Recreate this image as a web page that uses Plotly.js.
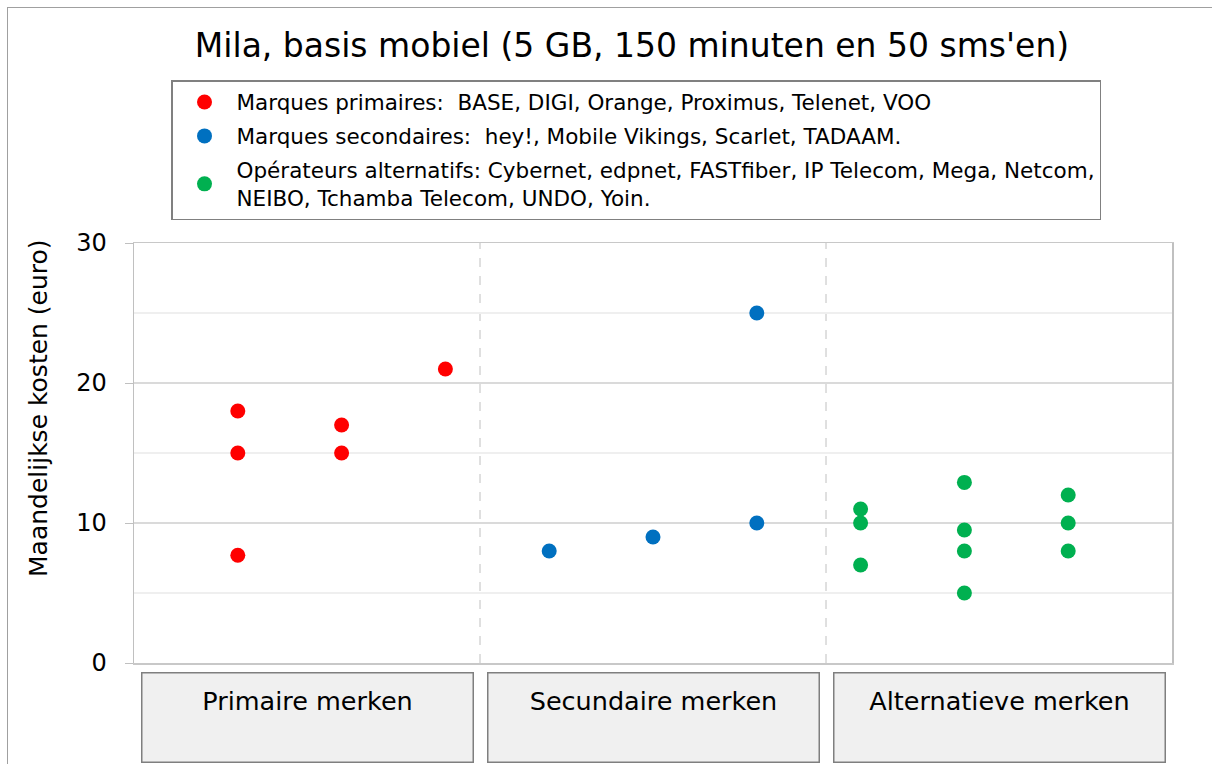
<!DOCTYPE html>
<html>
<head>
<meta charset="utf-8">
<script src="https://cdn.plot.ly/plotly-3.0.1.min.js"></script>
<style>
  html, body { margin: 0; padding: 0; background: #fff; }
  #frame { position: absolute; left: 7px; top: 7px; width: 1220px; height: 780px;
           border-left: 1.5px solid #a0a0a0; border-top: 1.5px solid #a0a0a0; pointer-events: none; }
  #chart { position: absolute; left: 0; top: 0; width: 1212px; height: 764px; }
</style>
</head>
<body>
<div id="chart"></div>
<div id="frame"></div>
<script>
// ---- data ----
const groupLabels = ['Primaire merken', 'Secundaire merken', 'Alternatieve merken'];
const groupCenters = [5/3, 5, 25/3];
const groupSeparators = [10/3, 20/3];

const primX = [1, 1, 1, 2, 2, 3];
const primY = [18, 15, 7.7, 17, 15, 21];

const secX = [4, 5, 6, 6];
const secY = [8, 9, 25, 10];

const altX = [7, 7, 7, 8, 8, 8, 8, 9, 9, 9];
const altY = [11, 10, 7, 12.9, 9.5, 8, 5, 12, 10, 8];

const seriesNames = [
  'Marques primaires:\u00a0 BASE, DIGI, Orange, Proximus, Telenet, VOO',
  'Marques secondaires:\u00a0 hey!, Mobile Vikings, Scarlet, TADAAM.',
  'Opérateurs alternatifs: Cybernet, edpnet, FASTfiber, IP Telecom, Mega, Netcom,<br>NEIBO, Tchamba Telecom, UNDO, Yoin.'
];
const seriesColors = ['#ff0000', '#0070c0', '#00b050'];

const titleText = "Mila, basis mobiel (5 GB, 150 minuten en 50 sms'en)";
const yTitleText = 'Maandelijkse kosten (euro)';
const yTickVals = [0, 10, 20, 30];

// ---- chart ----
const FONT = 'DejaVu Sans, Verdana, sans-serif';
const xs = [primX, secX, altX];
const ys = [primY, secY, altY];

const traces = xs.map((x, i) => ({
  type: 'scatter', mode: 'markers',
  x: x, y: ys[i],
  name: seriesNames[i],
  legendgroup: 'g' + i,
  marker: { color: seriesColors[i], size: 15, line: { width: 0 } },
  hoverinfo: 'y'
}));

const shapes = groupSeparators.map(v => ({
  type: 'line', xref: 'x', yref: 'paper', x0: v, x1: v, y0: 0, y1: 1,
  line: { color: '#c0c0c0', width: 1, dash: 'dash' }, layer: 'below'
}));

const annotations = groupLabels.map((t, i) => ({
  xref: 'x', yref: 'paper', x: groupCenters[i], y: -0.022,
  xanchor: 'center', yanchor: 'top',
  text: t + '<br> ', showarrow: false,
  font: { family: FONT, size: 25.5, color: '#000' },
  bgcolor: '#f0f0f0', bordercolor: '#7f7f7f', borderwidth: 1.5,
  width: 326, height: 84, valign: 'middle', borderpad: 2
}));
annotations.push({
  xref: 'paper', yref: 'paper', x: -96 / 1038, y: (663 - 408) / 420,
  xanchor: 'center', yanchor: 'middle', textangle: -90,
  text: yTitleText, showarrow: false,
  font: { family: FONT, size: 25, color: '#000' }
});

const layout = {
  width: 1212, height: 764,
  margin: { l: 133.5, r: 40, t: 243, b: 101, autoexpand: false },
  paper_bgcolor: '#ffffff', plot_bgcolor: '#ffffff',
  font: { family: FONT, color: '#000' },
  title: {
    text: titleText, xref: 'container', yref: 'container',
    x: 632 / 1212, xanchor: 'center', y: 1 - 45 / 764, yanchor: 'middle',
    font: { family: FONT, size: 33, color: '#000' }
  },
  showlegend: true,
  legend: {
    xref: 'container', yref: 'container',
    x: 171 / 1212, xanchor: 'left', y: 1 - 80 / 764, yanchor: 'top',
    bordercolor: '#808080', borderwidth: 1.5, bgcolor: '#ffffff',
    font: { family: FONT, size: 21.5, color: '#000' },
    traceorder: 'grouped', tracegroupgap: 3, itemwidth: 54
  },
  xaxis: {
    range: [0, 10], showgrid: false, zeroline: false, showticklabels: false,
    ticks: '', showline: true, linecolor: '#c8c8c8', linewidth: 1.5, mirror: true,
    fixedrange: true
  },
  yaxis: {
    range: [0, 30], tickvals: yTickVals, ticks: 'outside', ticklen: 8, tickcolor: '#c0c0c0',
    ticklabelstandoff: 13,
    showgrid: true, gridcolor: '#dadada', gridwidth: 1.5,
    minor: { dtick: 5, showgrid: true, gridcolor: '#efefef', gridwidth: 1.5 },
    zeroline: false, showline: true, linecolor: '#c0c0c0', linewidth: 1.5, mirror: true,
    tickfont: { family: FONT, size: 24, color: '#000' },
    fixedrange: true
  },
  shapes: shapes,
  annotations: annotations
};

Plotly.newPlot('chart', traces, layout, { displayModeBar: false, staticPlot: true });
</script>
</body>
</html>
